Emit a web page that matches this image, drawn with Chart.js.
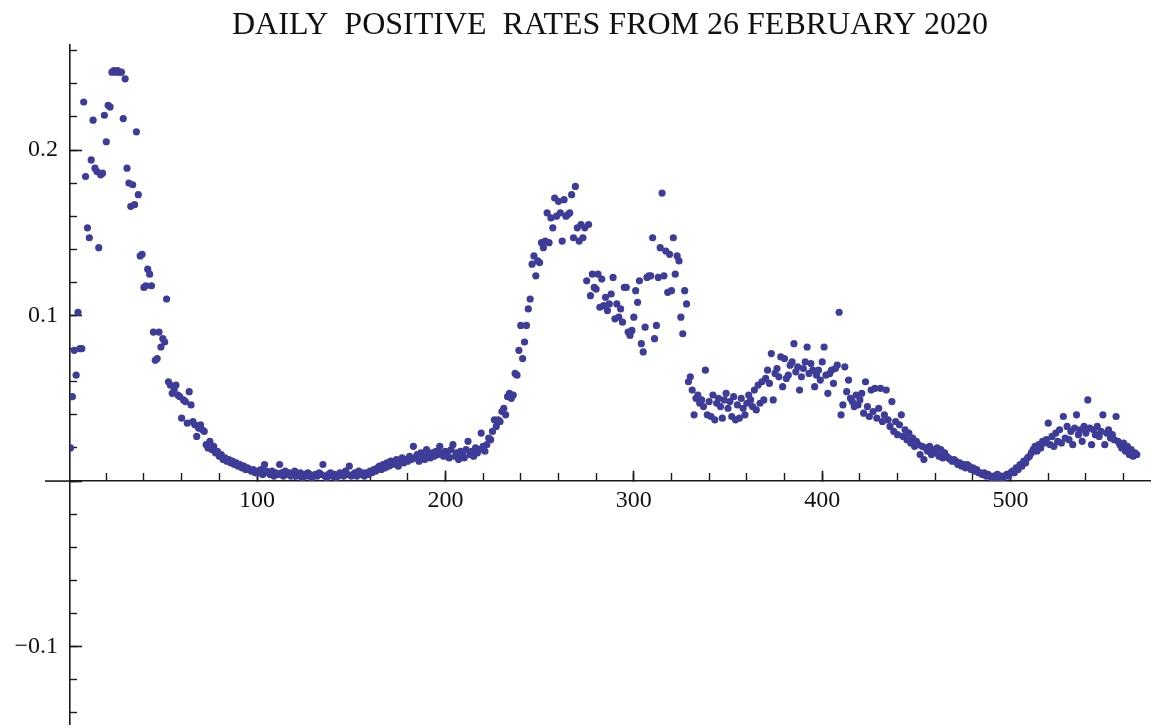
<!DOCTYPE html>
<html>
<head>
<meta charset="utf-8">
<script src="https://cdn.jsdelivr.net/npm/chart.js@4.4.1/dist/chart.umd.min.js"></script>
<style>
  html, body { margin: 0; padding: 0; background: #ffffff; }
  #wrap { width: 1155px; height: 728px; }
</style>
</head>
<body>
<div id="wrap"><canvas id="c" width="1155" height="728"></canvas></div>
<script>
// ---- Data (daily positive rate, day 1 = 26 Feb 2020) ----
const chartTitle = "DAILY  POSITIVE  RATES FROM 26 FEBRUARY 2020";

const rates = [
  // 1-100
  0.020, 0.051, 0.079, 0.064, 0.102, 0.080, 0.080, 0.229, 0.184, 0.153,
  0.147, 0.194, 0.218, 0.189, 0.187, 0.141, 0.185, 0.186, 0.221, 0.205,
  0.227, 0.226, 0.247, 0.248, 0.247, 0.248, 0.247, 0.247, 0.219, 0.243,
  0.189, 0.180, 0.166, 0.179, 0.167, 0.211, 0.173, 0.136, 0.137, 0.117,
  0.118, 0.128, 0.125, 0.118, 0.090, 0.073, 0.074, 0.090, 0.081, 0.086,
  0.084, 0.110, 0.060, 0.058, 0.053, 0.055, 0.058, 0.052, 0.051, 0.038,
  0.049, 0.048, 0.035, 0.054, 0.046, 0.036, 0.034, 0.027, 0.032, 0.034,
  0.031, 0.030, 0.022, 0.020, 0.024, 0.019, 0.021, 0.017, 0.018, 0.015,
  0.016, 0.013, 0.014, 0.012, 0.013, 0.011, 0.012, 0.010, 0.011, 0.009,
  0.010, 0.008, 0.009, 0.007, 0.008, 0.007, 0.006, 0.007, 0.005, 0.006,
  // 101-200
  0.005, 0.007, 0.004, 0.010, 0.006, 0.005, 0.004, 0.006, 0.003, 0.005,
  0.004, 0.010, 0.005, 0.003, 0.006, 0.004, 0.005, 0.003, 0.004, 0.006,
  0.003, 0.004, 0.005, 0.002, 0.004, 0.003, 0.005, 0.004, 0.002, 0.003,
  0.004, 0.003, 0.005, 0.004, 0.010, 0.003, 0.002, 0.004, 0.005, 0.003,
  0.004, 0.002, 0.003, 0.005, 0.004, 0.003, 0.006, 0.004, 0.009, 0.003,
  0.004, 0.005, 0.003, 0.006, 0.004, 0.005, 0.003, 0.005, 0.004, 0.006,
  0.005, 0.007, 0.006, 0.008, 0.009, 0.007, 0.010, 0.008, 0.011, 0.009,
  0.012, 0.010, 0.011, 0.013, 0.009, 0.012, 0.014, 0.011, 0.013, 0.012,
  0.015, 0.013, 0.021, 0.014, 0.016, 0.012, 0.017, 0.015, 0.013, 0.019,
  0.016, 0.014, 0.017, 0.015, 0.018, 0.016, 0.021, 0.017, 0.015, 0.018,
  // 201-300
  0.016, 0.014, 0.019, 0.022, 0.015, 0.017, 0.013, 0.018, 0.016, 0.014,
  0.019, 0.024, 0.016, 0.018, 0.015, 0.020, 0.017, 0.019, 0.029, 0.021,
  0.018, 0.022, 0.026, 0.025, 0.030, 0.037, 0.033, 0.037, 0.036, 0.042,
  0.044, 0.040, 0.051, 0.053, 0.050, 0.052, 0.065, 0.064, 0.079, 0.094,
  0.074, 0.084, 0.094, 0.104, 0.110, 0.131, 0.136, 0.124, 0.133, 0.132,
  0.144, 0.141, 0.145, 0.162, 0.144, 0.159, 0.153, 0.171, 0.160, 0.169,
  0.162, 0.145, 0.170, 0.160, 0.161, 0.162, 0.173, 0.147, 0.178, 0.153,
  0.145, 0.155, 0.147, 0.153, 0.121, 0.155, 0.112, 0.125, 0.117, 0.116,
  0.125, 0.105, 0.122, 0.106, 0.111, 0.103, 0.107, 0.113, 0.123, 0.098,
  0.107, 0.099, 0.104, 0.096, 0.117, 0.117, 0.090, 0.088, 0.091, 0.099,
  // 301-400
  0.115, 0.108, 0.121, 0.083, 0.078, 0.093, 0.123, 0.124, 0.124, 0.147,
  0.086, 0.094, 0.123, 0.141, 0.174, 0.124, 0.139, 0.114, 0.137, 0.115,
  0.147, 0.125, 0.136, 0.133, 0.099, 0.089, 0.115, 0.107, 0.060, 0.063,
  0.055, 0.040, 0.050, 0.052, 0.047, 0.049, 0.045, 0.067, 0.040, 0.048,
  0.039, 0.052, 0.037, 0.047, 0.050, 0.045, 0.038, 0.049, 0.053, 0.044,
  0.048, 0.039, 0.051, 0.037, 0.046, 0.038, 0.050, 0.044, 0.040, 0.047,
  0.052, 0.049, 0.045, 0.055, 0.043, 0.058, 0.047, 0.060, 0.049, 0.062,
  0.067, 0.059, 0.077, 0.049, 0.065, 0.068, 0.063, 0.075, 0.057, 0.074,
  0.062, 0.064, 0.070, 0.072, 0.083, 0.066, 0.069, 0.055, 0.063, 0.068,
  0.072, 0.081, 0.065, 0.071, 0.067, 0.057, 0.064, 0.067, 0.061, 0.072,
  // 401-500
  0.081, 0.064, 0.053, 0.065, 0.067, 0.059, 0.068, 0.070, 0.102, 0.040,
  0.046, 0.069, 0.054, 0.061, 0.050, 0.048, 0.045, 0.052, 0.046, 0.049,
  0.053, 0.041, 0.060, 0.045, 0.039, 0.055, 0.042, 0.056, 0.038, 0.044,
  0.056, 0.036, 0.040, 0.055, 0.037, 0.033, 0.048, 0.030, 0.036, 0.028,
  0.034, 0.040, 0.027, 0.031, 0.025, 0.029, 0.023, 0.026, 0.021, 0.024,
  0.022, 0.016, 0.021, 0.013, 0.020, 0.018, 0.021, 0.016, 0.019, 0.017,
  0.020, 0.015, 0.019, 0.014, 0.017, 0.015, 0.014, 0.013, 0.012, 0.013,
  0.012, 0.010, 0.011, 0.009, 0.010, 0.008, 0.010, 0.009, 0.007, 0.008,
  0.006, 0.007, 0.005, 0.005, 0.004, 0.005, 0.003, 0.004, 0.003, 0.002,
  0.003, 0.002, 0.004, 0.002, 0.003, 0.002, 0.003, 0.004, 0.003, 0.005,
  // 501-567
  0.006, 0.005, 0.008, 0.007, 0.010, 0.009, 0.012, 0.011, 0.014, 0.015,
  0.017, 0.019, 0.021, 0.018, 0.022, 0.020, 0.024, 0.023, 0.025, 0.035,
  0.022, 0.027, 0.021, 0.029, 0.024, 0.031, 0.023, 0.039, 0.026, 0.033,
  0.025, 0.030, 0.022, 0.032, 0.040, 0.028, 0.031, 0.024, 0.033, 0.029,
  0.049, 0.032, 0.022, 0.031, 0.028, 0.033, 0.027, 0.030, 0.040, 0.022,
  0.029, 0.031, 0.026, 0.028, 0.025, 0.039, 0.024, 0.022, 0.020, 0.023,
  0.018, 0.021, 0.016, 0.019, 0.015, 0.017, 0.016
];

// day numbers (categories) for each rate
const days = rates.map((_, i) => i + 1);

// axis tick steps
const xMajorStep = 100;
const xMinorStep = 20;
const yMajorStep = 0.1;
const yMinorStep = 0.02;

// axis ranges
const xMin = 0.74, xMax = 574;
const yMin = -0.147, yMax = 0.2638;

// ---- Build chart ----
const pointColor = '#3d3d99';
const axisColor = '#1a1a1a';
const tickFont = { family: 'Liberation Serif', size: 24 };

const points = days.map((d, i) => ({ x: d, y: rates[i] }));

const axisExtension = {
  id: 'axisExtension',
  afterDraw(chart) {
    const { ctx, chartArea, scales } = chart;
    const y0 = scales.y.getPixelForValue(0);
    ctx.save();
    ctx.strokeStyle = axisColor;
    ctx.lineWidth = 1.6;
    ctx.beginPath();
    ctx.moveTo(chartArea.left - 25, y0);
    ctx.lineTo(chartArea.left, y0);
    ctx.stroke();
    ctx.restore();
  }
};

function fmtY(v) {
  if (Math.abs(v) < 1e-9) return '';
  const s = (Math.round(v * 10) / 10).toFixed(1);
  return s.replace('-', '\u2212');
}

new Chart(document.getElementById('c'), {
  type: 'scatter',
  data: {
    datasets: [{
      data: points,
      backgroundColor: pointColor,
      borderWidth: 0,
      pointRadius: 3.6,
      pointHoverRadius: 3.6,
      xAxisID: 'x',
      yAxisID: 'y'
    }]
  },
  options: {
    responsive: false,
    animation: false,
    events: [],
    layout: { padding: { left: 0, right: 5, top: 0, bottom: 0 } },
    plugins: {
      legend: { display: false },
      tooltip: { enabled: false },
      title: {
        display: true,
        text: chartTitle,
        fullSize: false,
        color: '#111111',
        font: { family: 'Liberation Serif', size: 32, weight: 'normal' },
        padding: { top: 6, bottom: 0 }
      }
    },
    scales: {
      x: {
        type: 'linear',
        axis: 'x',
        min: xMin, max: xMax,
        position: { y: 0 },
        afterFit: (s) => { s.height = 0; s.paddingLeft = 0; s.paddingRight = 0; s.paddingBottom = 0; },
        border: { display: true, color: axisColor, width: 1.6 },
        grid: { drawOnChartArea: false, drawTicks: true, tickLength: -11, tickColor: axisColor, tickWidth: 1.6 },
        ticks: {
          stepSize: xMajorStep, includeBounds: false, maxRotation: 0, autoSkip: false,
          padding: 16, color: '#111111', font: tickFont,
          callback: (v) => String(v)
        }
      },
      xMinor: {
        type: 'linear',
        axis: 'x',
        min: xMin, max: xMax,
        position: { y: 0 },
        afterFit: (s) => { s.height = 0; },
        border: { display: false },
        grid: { drawOnChartArea: false, drawTicks: true, tickLength: -8, tickColor: axisColor, tickWidth: 1.4 },
        ticks: { stepSize: xMinorStep, includeBounds: false, display: false, autoSkip: false }
      },
      y: {
        type: 'linear',
        axis: 'y',
        min: yMin, max: yMax,
        position: 'left',
        afterFit: (s) => { s.width = 70; s.paddingTop = 0; s.paddingBottom = 0; },
        border: { display: true, color: axisColor, width: 1.6 },
        grid: { drawOnChartArea: false, drawTicks: true, tickLength: -12, tickColor: axisColor, tickWidth: 1.6 },
        ticks: {
          stepSize: yMajorStep, includeBounds: false, autoSkip: false,
          padding: 24, color: '#111111', font: tickFont,
          callback: (v) => fmtY(v)
        }
      },
      yMinor: {
        type: 'linear',
        axis: 'y',
        min: yMin, max: yMax,
        position: { x: xMin },
        afterFit: (s) => { s.width = 0; },
        border: { display: false },
        grid: { drawOnChartArea: false, drawTicks: true, tickLength: -7, tickColor: axisColor, tickWidth: 1.4 },
        ticks: { stepSize: yMinorStep, includeBounds: false, display: false, autoSkip: false }
      }
    }
  },
  plugins: [axisExtension]
});
</script>
</body>
</html>
